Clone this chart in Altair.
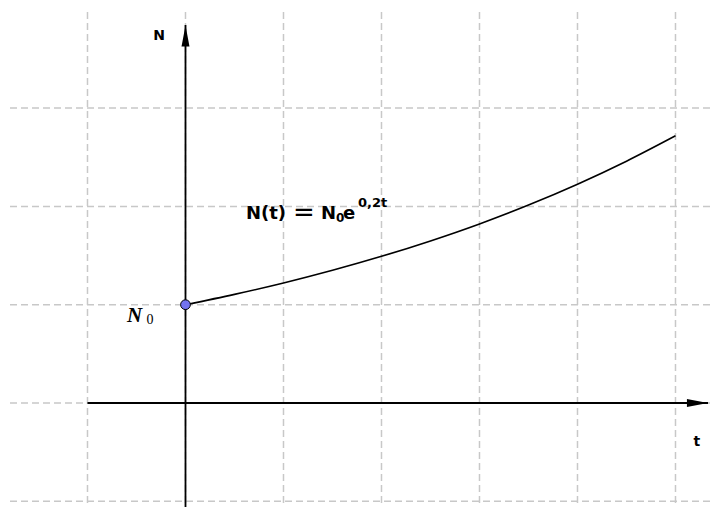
import altair as alt
import pandas as pd

# curve N(t) = N0 * e^(0.2 t), with N0 = 1 grid unit
t_vals = [0.0, 0.5, 1.0, 1.5, 2.0, 2.5, 3.0, 3.5, 4.0, 4.5, 5.0]
n_vals = [1.000, 1.105, 1.221, 1.350, 1.492, 1.649, 1.822, 2.014, 2.226, 2.460, 2.718]

grid_t = [-1, 0, 1, 2, 3, 4, 5]
grid_n = [-1, 0, 1, 2, 3]

point_t = [0.0]
point_n = [1.0]

X_DOM = [-1.8112, 5.3521]
Y_DOM = [-1.058, 4.0183]
W, H = 702, 499

xs = alt.Scale(domain=X_DOM, nice=False, zero=False)
ys = alt.Scale(domain=Y_DOM, nice=False, zero=False)

def X(f):
    return alt.X(f, type="quantitative", scale=xs, axis=None)

def Y(f):
    return alt.Y(f, type="quantitative", scale=ys, axis=None)

grid_style = dict(color="#c8c8c8", strokeWidth=1.5, strokeDash=[7, 4])

vgrid = alt.Chart(pd.DataFrame({"t": grid_t})).mark_rule(**grid_style).encode(
    x=X("t"), y=alt.value(4), y2=alt.value(H))
hgrid = alt.Chart(pd.DataFrame({"n": grid_n})).mark_rule(**grid_style).encode(y=Y("n"))

axes_df = pd.DataFrame({"x0": [-1.0], "x1": [5.332], "ya": [0.0],
                        "xa": [0.0], "y0": [-1.06], "y1": [3.845]})
xaxis = alt.Chart(axes_df).mark_rule(color="black", strokeWidth=1.8).encode(
    x=X("x0"), x2="x1", y=Y("ya"))
yaxis = alt.Chart(axes_df).mark_rule(color="black", strokeWidth=1.8).encode(
    x=X("xa"), y=Y("y0"), y2="y1")

arrow_x = alt.Chart(pd.DataFrame({"t": [5.224], "n": [0.0]})).mark_point(
    shape="M -1 -0.38 L 1 0 L -1 0.38 Z", size=441, filled=True, color="black", opacity=1
).encode(x=X("t"), y=Y("n"))
arrow_y = alt.Chart(pd.DataFrame({"t": [0.0], "n": [3.733]})).mark_point(
    shape="M -0.38 1 L 0 -1 L 0.38 1 Z", size=441, filled=True, color="black", opacity=1
).encode(x=X("t"), y=Y("n"))

curve = alt.Chart(pd.DataFrame({"t": t_vals, "n": n_vals})).mark_line(
    color="black", strokeWidth=1.6, interpolate="monotone"
).encode(x=X("t"), y=Y("n"))

point = alt.Chart(pd.DataFrame({"t": point_t, "n": point_n})).mark_point(
    shape="circle", size=95, filled=True, color="#7373f0", stroke="black",
    strokeWidth=1, opacity=1
).encode(x=X("t"), y=Y("n"))

def label(text, t, n, size, font="DejaVu Sans", weight="bold", style="normal", align="left"):
    return alt.Chart(pd.DataFrame({"t": [t], "n": [n], "s": [text]})).mark_text(
        font=font, fontSize=size, fontWeight=weight, fontStyle=style,
        align=align, baseline="alphabetic", color="black"
    ).encode(x=X("t"), y=Y("n"), text="s:N")

texts = [
    label("N(t)", 0.617, 1.872, 18),
    label("=", 1.097, 1.8515, 26, weight="normal"),
    label("N", 1.383, 1.872, 18),
    label("0", 1.536, 1.841, 12),
    label("e", 1.607, 1.872, 18),
    label("0,2t", 1.760, 1.994, 13),
    label("N", -0.270, 3.693, 14, align="center"),
    label("t", 5.219, -0.437, 14, align="center"),
    label("N", -0.597, 0.827, 21, font="Liberation Serif", style="italic"),
    label("0", -0.398, 0.804, 14, font="Liberation Serif", weight="normal"),
]

chart = alt.layer(vgrid, hgrid, xaxis, yaxis, arrow_x, arrow_y, curve, point, *texts).properties(
    width=W, height=H, padding=0, autosize=alt.AutoSizeParams(type="none")
).configure_view(stroke=None)

chart.save("out.html", embed_options={"renderer": "svg", "actions": False})
